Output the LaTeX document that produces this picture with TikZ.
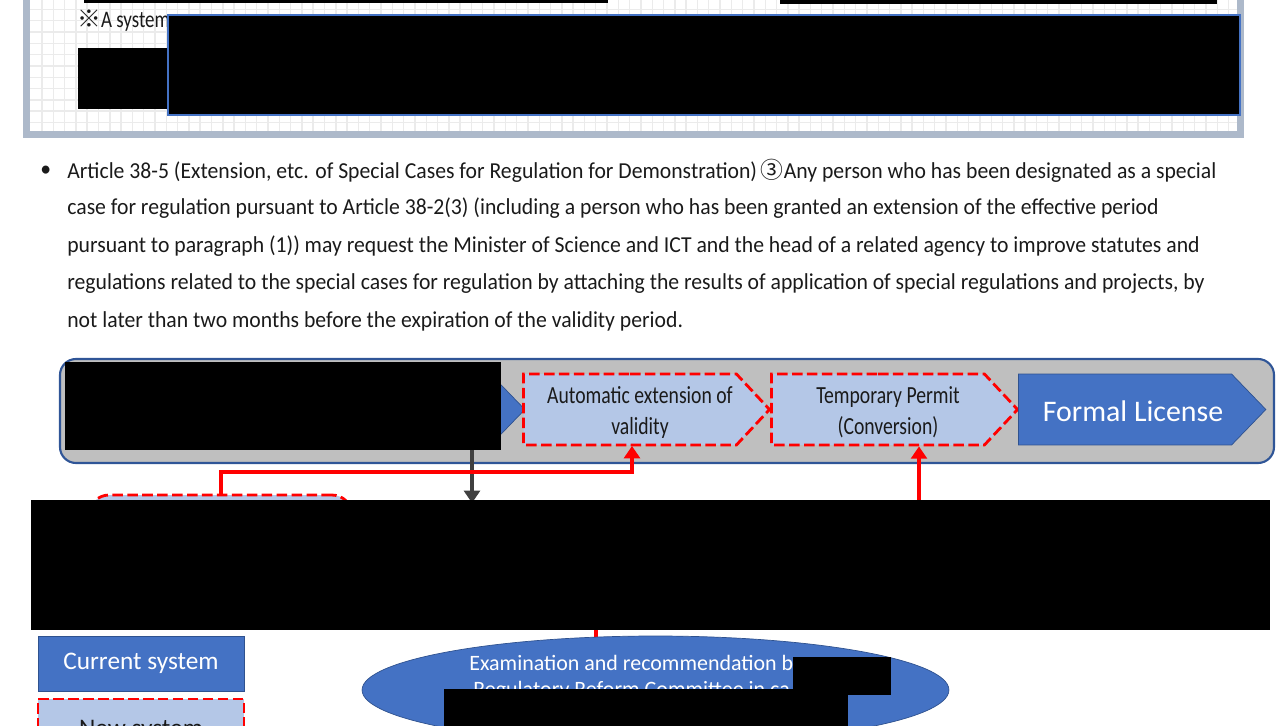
\documentclass[tikz,border=0pt]{standalone}
\usepackage{fontspec}
\setmainfont{Carlito}
\newfontfamily\narrowfont[FakeStretch=0.95]{Carlito}
\newfontfamily\boxfont[FakeStretch=0.8]{Carlito}
\newfontfamily\cjkfont{Noto Sans CJK JP}
\usetikzlibrary{
arrows.meta,
positioning,
shapes.geometric,
shapes.symbols,
calc
}
\definecolor{KPanelFrame}{HTML}{ADB9CA}
\definecolor{KGrid}{HTML}{EBEBEB}
\definecolor{KRedactEdge}{HTML}{4472C4}
\definecolor{KGray}{HTML}{BFBFBF}
\definecolor{KEdge}{HTML}{2F5597}
\definecolor{KBlue}{HTML}{4472C4}
\definecolor{KBlueEdge}{HTML}{2F528F}
\definecolor{KLight}{HTML}{B4C7E7}
\definecolor{KRed}{HTML}{FF0000}
\definecolor{KDark}{HTML}{404040}
\definecolor{KText}{HTML}{1A1A1A}

\tikzset{
bodyline/.style={anchor=west, inner sep=0pt, text=KText, font=\narrowfont\fontsize{13}{15}\selectfont},
oldstep/.style={signal, signal to=east, signal pointer angle=92, draw=KBlueEdge, fill=KBlue,
  minimum width=4.95cm, minimum height=1.42cm, inner sep=0pt},
newstep/.style={signal, signal to=east, signal pointer angle=94, draw=KRed, fill=KLight,
  line width=1.6pt, dash pattern=on 6pt off 2.5pt, minimum width=4.92cm, minimum height=1.42cm,
  inner sep=0pt},
steptext/.style={inner sep=0pt, align=center, text=KText, font=\boxfont\fontsize{14}{17.6}\selectfont},
oldkey/.style={rectangle, draw=KBlueEdge, fill=KBlue, text=white, minimum width=4.12cm,
  minimum height=1.1cm, inner sep=0pt, font=\fontsize{14.4}{17}\selectfont},
newkey/.style={rectangle, draw=KRed, fill=KLight, text=KText, line width=1.6pt,
  dash pattern=on 6pt off 2.5pt, minimum width=4.12cm, minimum height=1.24cm, inner sep=0pt,
  font=\fontsize{14.4}{17}\selectfont},
redarrow/.style={draw=KRed, line width=2.3pt, -{Triangle[length=7pt, width=9pt]}},
darkarrow/.style={draw=KDark, line width=2.6pt, -{Triangle[length=7pt, width=9pt]}},
redact/.style={fill=black}
}

\begin{document}
\begin{tikzpicture}[x=0.02cm, y=-0.02cm]
\useasboundingbox (0,0) rectangle (1286,726);
\clip (0,0) rectangle (1286,726);

% note panel
\fill[KPanelFrame] (23,-10) rectangle (1244,138);
\fill[white] (30,-10) rectangle (1237,131);
\foreach \gx in {42,53.3,...,1237} \draw[KGrid, line width=0.8pt] (\gx,-10) -- (\gx,131);
\foreach \gy in {-1.8,9.5,...,131} \draw[KGrid, line width=0.8pt] (30,\gy) -- (1237,\gy);
\node[bodyline, font=\boxfont\fontsize{13.5}{15}\selectfont] (note) at (77,21) {{\cjkfont ※}A system};
\fill[redact] (84,-2) rectangle (608,3);
\fill[redact] (780,-2) rectangle (1217,4);
\fill[redact] (78,48) rectangle (168,109);
\draw[KRedactEdge, fill=black, line width=0.6pt] (168,15) rectangle (1240,115);

% article text
\node[bodyline] (dot) at (40,171) {•};
\node[bodyline] (line1) at (67,171) {Article 38-5 (Extension, etc. of Special Cases for Regulation for Demonstration)\,{\cjkfont ③}Any person who has been designated as a special};
\node[bodyline] (line2) at (67,208.5) {case for regulation pursuant to Article 38-2(3) (including a person who has been granted an extension of the effective period};
\node[bodyline] (line3) at (67,246) {pursuant to paragraph (1)) may request the Minister of Science and ICT and the head of a related agency to improve statutes and};
\node[bodyline] (line4) at (67,283.5) {regulations related to the special cases for regulation by attaching the results of application of special regulations and projects, by};
\node[bodyline] (line5) at (67,321) {not later than two months before the expiration of the validity period.};

% flow of permits
\draw[KEdge, fill=KGray, line width=1.2pt, rounded corners=0.32cm] (60,359) rectangle (1274,463);
\node[oldstep] (present) at (384,409.5) {};
\node[newstep] (autoext) at (630,409.5) {};
\node[newstep] (tempperm) at (878,409.5) {};
\node[oldstep] (formal) at (1125,409.5) {};
\node[steptext] (autoextlbl) at (640,411) {\rule{0pt}{11pt}Automatic extension of\\validity};
\node[steptext] (temppermlbl) at (888,411) {\rule{0pt}{11pt}Temporary Permit\\(Conversion)};
\node[inner sep=0pt, text=white, font=\fontsize{17}{19}\selectfont] (formallbl) at (1133,411) {Formal License};

\node[newkey, rounded corners=0.4cm, minimum width=5.26cm, minimum height=2.6cm] (special) at (220.5,560) {};
\coordinate (elbow) at (221,472);
\coordinate (autoin) at (632,446);
\coordinate (presentfoot) at (472,503);
\coordinate (permfoot) at (919,520);
\coordinate (examtop) at (596,640);

\draw[darkarrow] (present.south -| presentfoot) -- (presentfoot);
\draw[redarrow] (special.north -| elbow) -- (elbow) -| (autoin);
\draw[redarrow] (permfoot) -- (tempperm.south -| permfoot);
\draw[KRed, line width=2.3pt] (examtop) -- ++(0,-30);

\fill[redact] (65,362) rectangle (501,450);
\fill[redact] (31,500) rectangle (1270,630);

% legend
\node[oldkey] (legold) at (141,663.5) {Current system};
\node[newkey] (legnew) at (141,730) {New system};

% committee
\node[ellipse, draw=KBlueEdge, fill=KBlue, minimum width=11.74cm, minimum height=2.16cm] (exam) at (655.5,690) {};
\node[anchor=west, inner sep=0pt, text=white, font=\fontsize{12.5}{15}\selectfont] (examtext1) at (469,663) {Examination and recommendation b};
\node[anchor=west, inner sep=0pt, text=white, font=\fontsize{12.5}{15}\selectfont] (examtext2) at (473,691) {Regulatory Reform Committee in ca};
\fill[redact] (793,657) rectangle (891,695);
\fill[redact] (444,689) rectangle (848,730);
\end{tikzpicture}
\end{document}
